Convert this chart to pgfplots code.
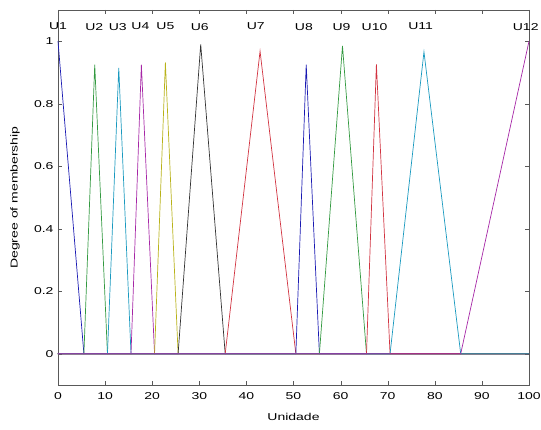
\documentclass[border=0pt]{standalone}
\usepackage{pgfplots}
\pgfplotsset{compat=1.18}
\usepackage{fontspec}
\setmainfont[FakeStretch=1.4]{Liberation Sans}
\definecolor{mblue}{rgb}{0.1,0.1,0.7}
\definecolor{mgreen}{rgb}{0.2,0.6,0.25}
\definecolor{mcyan}{rgb}{0.1,0.6,0.75}
\definecolor{mmag}{rgb}{0.65,0.15,0.65}
\definecolor{myel}{rgb}{0.72,0.7,0.1}
\definecolor{mblack}{rgb}{0.2,0.2,0.2}
\definecolor{mred}{rgb}{0.82,0.2,0.25}
\begin{document}
\fontsize{10}{11}\selectfont
\begin{tikzpicture}
\begin{axis}[
scale only axis,
width=471pt, height=375pt,
xmin=0, xmax=100,
ymin=-0.1, ymax=1.1,
xtick={0,10,...,100},
ytick={0,0.2,0.4,0.6,0.8,1},
yticklabels={0,0.2,0.4,0.6,0.8,1},
tick align=inside,
major tick length=4pt,
axis line style={gray!70!black},
tick style={gray!70!black},
xlabel={Unidade},
ylabel={Degree of membership},
every axis x label/.style={at={(axis description cs:0.5,0)}, anchor=center, yshift=-32pt},
every axis y label/.style={at={(axis description cs:0,0.5)}, rotate=90, anchor=center, yshift=43pt},
xticklabel style={yshift=-4pt},
yticklabel style={xshift=-1pt},
/pgf/number format/assume math mode=true,
tick label style={font=\fontsize{10}{11}\selectfont},
label style={font=\fontsize{10}{11}\selectfont},
clip=false,
every axis plot/.append style={line width=0.7pt},
]
\addplot[mblue] coordinates {(0,1)(5.5,0)(100,0)};
\addplot[mgreen] coordinates {(0,0)(5.5,0)(7.8,0.925)(10.5,0)(100,0)};
\addplot[mcyan] coordinates {(0,0)(10.5,0)(12.9,0.915)(15.5,0)(100,0)};
\addplot[mmag] coordinates {(0,0)(15.5,0)(17.7,0.925)(20.5,0)(100,0)};
\addplot[myel] coordinates {(0,0)(20.5,0)(22.8,0.932)(25.5,0)(100,0)};
\addplot[mblack] coordinates {(0,0)(25.5,0)(30.3,0.99)(35.5,0)(100,0)};
\addplot[mred] coordinates {(0,0)(35.5,0)(42.9,0.968)(50.5,0)(100,0)};
\addplot[mblue] coordinates {(0,0)(50.5,0)(52.7,0.925)(55.5,0)(100,0)};
\addplot[mgreen] coordinates {(0,0)(55.5,0)(60.4,0.985)(65.5,0)(100,0)};
\addplot[mred] coordinates {(0,0)(65.5,0)(67.6,0.926)(70.5,0)(100,0)};
\addplot[mcyan] coordinates {(0,0)(70.5,0)(77.7,0.966)(85.5,0)(100,0)};
\addplot[mmag] coordinates {(0,0)(85.5,0)(100,1)};
\node at (axis cs:0,1.047) {U1};
\node at (axis cs:7.7,1.047) {U2};
\node at (axis cs:12.7,1.047) {U3};
\node at (axis cs:17.5,1.047) {U4};
\node at (axis cs:22.8,1.047) {U5};
\node at (axis cs:30.1,1.047) {U6};
\node at (axis cs:42,1.047) {U7};
\node at (axis cs:52.2,1.047) {U8};
\node at (axis cs:60.2,1.047) {U9};
\node at (axis cs:67.2,1.047) {U10};
\node at (axis cs:77,1.047) {U11};
\node at (axis cs:99.3,1.047) {U12};
\coordinate (bl) at (rel axis cs:0,0);
\coordinate (tr) at (rel axis cs:1,1);
\end{axis}
\pgfresetboundingbox
\path ([shift={(-58pt,-44pt)}]bl) rectangle ([shift={(12pt,10pt)}]tr);
\end{tikzpicture}
\end{document}
